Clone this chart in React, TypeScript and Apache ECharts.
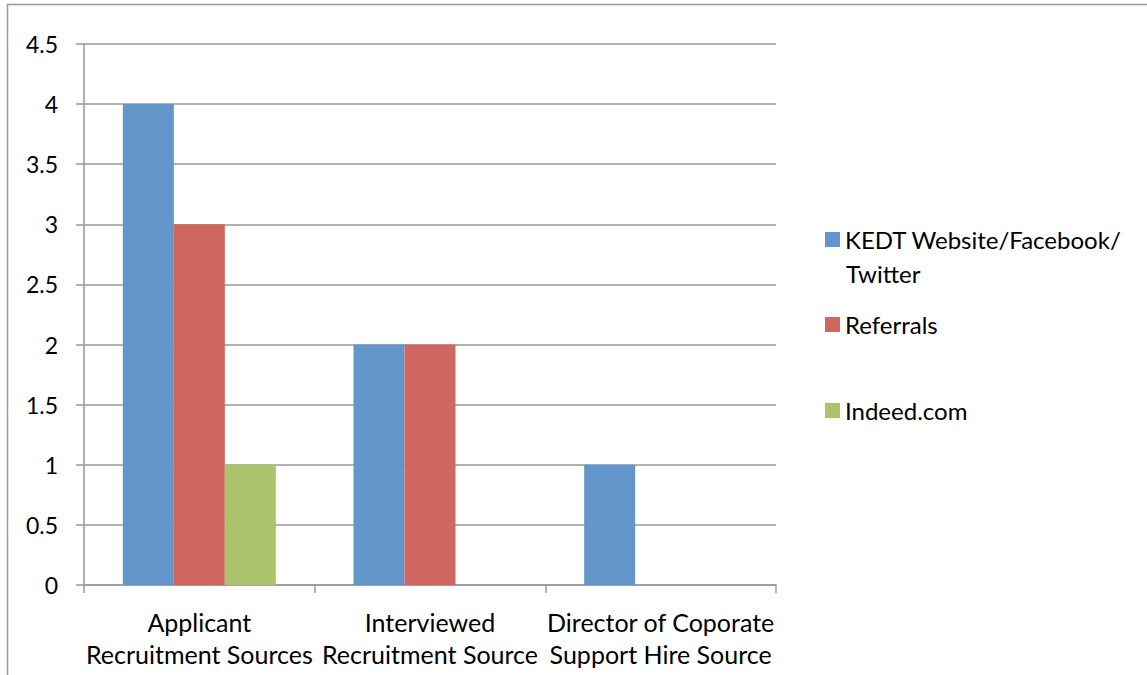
import React, { useEffect, useRef } from "react";
import * as echarts from "echarts";

const categories = [
  "Applicant\nRecruitment Sources",
  "Interviewed\nRecruitment Source",
  "Director of Coporate\nSupport Hire Source",
];
const seriesNames = ["KEDT Website/Facebook/Twitter", "Referrals", "Indeed.com"];
const kedtValues = [4, 2, 1];
const referralValues = [3, 2, null];
const indeedValues = [1, null, null];
const colors = ["#6397cc", "#cf6760", "#abc46c"];

const FONT = "Lato";

export default function App() {
  const ref = useRef<HTMLDivElement>(null);
  useEffect(() => {
    if (!ref.current) return;
    const chart = echarts.init(ref.current, undefined, { renderer: "svg" });
    const legendBase = {
      orient: "vertical" as const,
      left: 825,
      padding: 0,
      itemWidth: 15,
      itemHeight: 15,
      icon: "rect",
      textStyle: { fontFamily: FONT, fontSize: 24, color: "#000", lineHeight: 30 },
      selectedMode: false,
    };
    chart.setOption({
      animation: false,
      backgroundColor: "#fff",
      color: colors,
      grid: { left: 84, right: 371, top: 44, bottom: 90, containLabel: false },
      legend: [
        {
          ...legendBase,
          top: 224.5,
          data: [seriesNames[0]],
          formatter: () => "KEDT Website/Facebook/",
        },
        { ...legendBase, top: 309.5, data: [seriesNames[1]] },
        { ...legendBase, top: 395.5, data: [seriesNames[2]] },
      ],
      xAxis: {
        type: "category",
        data: categories,
        axisLine: { lineStyle: { color: "#999", width: 1.5 } },
        axisTick: { show: true, length: 8, lineStyle: { color: "#999", width: 1.5 } },
        axisLabel: {
          fontFamily: FONT,
          fontSize: 25,
          color: "#000",
          lineHeight: 32,
          margin: 21,
          interval: 0,
        },
      },
      yAxis: {
        type: "value",
        min: 0,
        max: 4.5,
        interval: 0.5,
        axisLine: { show: true, lineStyle: { color: "#999", width: 1.5 } },
        axisTick: { show: true, length: 8, lineStyle: { color: "#999", width: 1.5 } },
        splitLine: { lineStyle: { color: "#999", width: 1.5 } },
        axisLabel: {
          fontFamily: FONT,
          fontSize: 23,
          color: "#000",
          margin: 26,
        },
      },
      series: [
        { name: seriesNames[0], type: "bar", data: kedtValues, barWidth: 51, barGap: "0%" },
        { name: seriesNames[1], type: "bar", data: referralValues, barWidth: 51, barGap: "0%" },
        { name: seriesNames[2], type: "bar", data: indeedValues, barWidth: 51, barGap: "0%" },
      ],
      graphic: [
        {
          type: "text",
          x: 846,
          y: 273,
          style: {
            text: "Twitter",
            fontFamily: FONT,
            fontSize: 24,
            fill: "#000",
            verticalAlign: "middle",
          },
        },
        {
          type: "line",
          shape: { x1: 7.5, y1: 4, x2: 7.5, y2: 675 },
          style: { stroke: "#999", lineWidth: 1.5 },
        },
        {
          type: "line",
          shape: { x1: 7, y1: 4.5, x2: 1147, y2: 4.5 },
          style: { stroke: "#999", lineWidth: 1.5 },
        },
      ],
    });
    return () => chart.dispose();
  }, []);
  return (
    <div
      ref={ref}
      style={{ position: "absolute", left: 0, top: 0, width: 1147, height: 675 }}
    />
  );
}
